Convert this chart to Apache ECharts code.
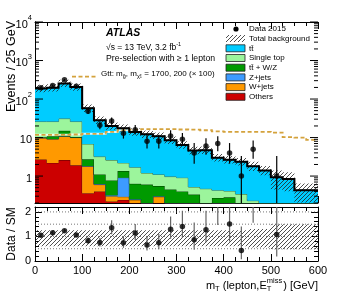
<!DOCTYPE html>
<html><head><meta charset="utf-8">
<script src="https://cdn.jsdelivr.net/npm/echarts/dist/echarts.min.js"></script>
<style>html,body{margin:0;padding:0;background:#fff}#c{width:357px;height:294px}</style>
</head><body><div id="c"></div>
<script>
// ---------- data ----------
const binEdges = [0,25,50,75,100,125,150,175,200,225,250,275,300,325,350,375,400,425,450,475,500,525,550,575,600];
const dataCounts  = [197,224,315,216,48,21,27,13,16,8,8,11,9,4,6,7,4,1,5,0,1,0,0,0];
const dataErrUp   = [14.5,15.5,18.3,15.2,7.9,5.6,6.2,4.7,5.1,3.9,3.9,4.4,4.1,3.2,3.6,3.8,3.2,2.3,3.4,0,2.3,0,0,0];
const dataErrDown = [13.5,14.5,17.3,14.2,6.9,4.6,5.2,3.6,4.0,2.8,2.8,3.3,3.0,1.9,2.4,2.6,1.9,0.83,2.2,0,0.83,0,0,0];
const others    = [2.7,2.2,2.6,1.9,0.36,0.40,0.22,0.24,0.12,0.10,0.08,0.06,0.05,0.05,0.05,0.04,0.04,0.03,0.03,0.02,0.02,0.02,0.01,0.01];
const wjets     = [7.1,7.0,8.2,8.1,1.44,0.20,0.08,0.05,0.12,0.05,0.21,0.06,0.05,0.05,0.05,0.04,0.04,0.03,0.02,0.02,0.02,0.01,0.01,0.01];
const zjets     = [0.02,0.02,0.02,0.02,0.02,0.02,0.02,0.62,0.01,0.01,0.01,0.01,0.01,0.01,0.01,0.01,0.01,0.01,0.01,0.01,0.01,0.01,0.01,0.01];
const ttv       = [0.3,1.6,4.2,0.3,0.9,0.48,0.45,0.44,0.38,0.44,0.25,0.32,0.29,0.22,0.07,0.18,0.19,0.08,0.06,0.03,0.02,0.02,0.02,0.02];
const singleTop = [15.9,15.2,16,15.7,4.1,2.1,1.83,0.85,1.07,0.6,0.55,0.52,0.51,0.19,0.29,0.16,0.13,0.19,0.11,0.07,0.05,0.04,0.03,0.03];
const ttbar     = [162,169,224,178,51.2,24.8,17.4,15.3,12.3,11.0,9.7,7.53,5.49,4.08,4.23,2.57,2.24,2.01,1.57,1.25,0.81,0.74,0.35,0.35];
const signalX100 = [11.8,11.8,11.8,12,12.5,12.5,14,15.5,16,16.5,16.5,16.5,16.2,16,15.5,14.5,14,14,14,14,13.5,10.3,10,8.7];
const bandUp   = [1.25,1.25,1.25,1.25,1.25,1.25,1.25,1.25,1.25,1.25,1.25,1.25,1.25,1.25,1.25,1.25,1.25,1.25,1.3,1.3,1.5,1.5,1.5,1.5];
const bandDown = [0.6,0.6,0.6,0.6,0.6,0.6,0.6,0.6,0.6,0.6,0.6,0.6,0.6,0.6,0.6,0.6,0.6,0.6,0.55,0.55,0.48,0.48,0.48,0.48];
const mainBandDown = [0.8,0.8,0.8,0.8,0.8,0.8,0.8,0.8,0.8,0.8,0.8,0.8,0.8,0.8,0.8,0.8,0.8,0.8,0.75,0.75,0.48,0.48,0.48,0.48];
const ratioGuides = [0.5,1,1.5,2];

// ---------- setup ----------
const FONT = '"Liberation Sans", Arial, Helvetica, sans-serif';
const N = dataCounts.length;
const YMIN = 0.2, YMAX = 10000, RMIN = 0, RMAX = 2.2;
const centers = binEdges.slice(0,-1).map((x,i)=>(x+binEdges[i+1])/2);
const total = ttbar.map((_,i)=>others[i]+wjets[i]+zjets[i]+ttv[i]+singleTop[i]+ttbar[i]);

const layers = [
  {name:'Others',     vals:others,    fill:'#cc0000', edge:'#4d0000'},
  {name:'W+jets',     vals:wjets,     fill:'#ff9900', edge:'#6b4000'},
  {name:'Z+jets',     vals:zjets,     fill:'#3d9bff', edge:'#123f70'},
  {name:'tt\u0304 + W/Z', vals:ttv,   fill:'#009a00', edge:'#003300'},
  {name:'Single top', vals:singleTop, fill:'#9cf59c', edge:'#2f5f3f'},
  {name:'tt\u0304',   vals:ttbar,     fill:'#00ccff', edge:'#0a3d4d'}
];
let run = new Array(N).fill(0);
layers.forEach(l=>{ l.lo = run.slice(); run = run.map((v,i)=>v+l.vals[i]); l.hi = run.slice(); });

function makeHatch(color, s, lw){
  const c=document.createElement('canvas'); c.width=s; c.height=s;
  const g=c.getContext('2d'); g.strokeStyle=color; g.lineWidth=lw;
  g.beginPath(); g.moveTo(-1,s+1); g.lineTo(s+1,-1); g.stroke();
  return c;
}
const hatchImg = makeHatch('#222', 4, 0.8);
const hatchFill = () => ({image: hatchImg, repeat: 'repeat'});

const clampY = v => Math.min(Math.max(v, YMIN), YMAX);
const clampR = v => Math.min(Math.max(v, RMIN), RMAX);
function steps(api, vals, clamp){
  const pts=[];
  for(let i=0;i<N;i++){ const y=clamp(vals[i]); pts.push(api.coord([binEdges[i], y])); pts.push(api.coord([binEdges[i+1], y])); }
  return pts;
}

const series = [];
// stack layers
layers.forEach((l,k)=>{
  series.push({
    type:'custom', xAxisIndex:0, yAxisIndex:0, z:2+k*0.01, data:[[300,1]], encode:{x:0,y:1}, silent:true,
    renderItem:(p,api)=>{
      const top=steps(api,l.hi,clampY), bot=steps(api,l.lo,clampY).reverse();
      return {type:'group', children:[
        {type:'polygon', shape:{points:top.concat(bot)}, style:{fill:l.fill, stroke:null}},
        {type:'polyline', shape:{points:top}, style:{stroke:l.edge, lineWidth:0.9, fill:null}}
      ]};
    }
  });
});
// hatch band
series.push({
  type:'custom', xAxisIndex:0, yAxisIndex:0, z:4, data:[[300,1]], encode:{x:0,y:1}, silent:true,
  renderItem:(p,api)=>{
    const up=steps(api, total.map((t,i)=>t*bandUp[i]), clampY);
    const dn=steps(api, total.map((t,i)=>t*mainBandDown[i]), clampY).reverse();
    return {type:'polygon', shape:{points:up.concat(dn)}, style:{fill:hatchFill()}};
  }
});
// signal
series.push({
  type:'custom', xAxisIndex:0, yAxisIndex:0, z:5, data:[[300,1]], encode:{x:0,y:1}, silent:true,
  renderItem:(p,api)=>{
    const pts=steps(api, signalX100, clampY);
    return {type:'group', children:[
      {type:'polyline', shape:{points:pts}, style:{stroke:'rgba(255,255,255,0.85)', lineWidth:2, fill:null}},
      {type:'polyline', shape:{points:pts}, style:{stroke:'#d4a23c', lineWidth:1.8, lineDash:[4,2.5], fill:null}}
    ]};
  }
});
// total line
series.push({
  type:'custom', xAxisIndex:0, yAxisIndex:0, z:6, data:[[300,1]], encode:{x:0,y:1}, silent:true,
  renderItem:(p,api)=>({type:'polyline', shape:{points:steps(api,total,clampY)}, style:{stroke:'#000', lineWidth:2, fill:null}})
});
// data error bars
series.push({
  type:'custom', xAxisIndex:0, yAxisIndex:0, z:7, data:[[300,1]], encode:{x:0,y:1}, silent:true,
  renderItem:(p,api)=>{
    const ch=[];
    for(let i=0;i<N;i++){ if(dataCounts[i]<=0) continue;
      const a=api.coord([centers[i], clampY(dataCounts[i]-dataErrDown[i])]), b=api.coord([centers[i], clampY(dataCounts[i]+dataErrUp[i])]);
      ch.push({type:'line', shape:{x1:a[0],y1:a[1],x2:b[0],y2:b[1]}, style:{stroke:'#000', lineWidth:1.2}});
    }
    return {type:'group', children:ch};
  }
});
series.push({
  type:'scatter', xAxisIndex:0, yAxisIndex:0, z:8, symbol:'circle', symbolSize:5.5, silent:true,
  itemStyle:{color:'#000'},
  data: centers.map((c,i)=>[c, dataCounts[i]]).filter(d=>d[1]>0)
});
// log-axis ticks (left and right)
const logTickVals=[];
for(let e=-1;e<=3;e++) for(let m=1;m<=9;m++){ const v=m*Math.pow(10,e); if(v>=YMIN-1e-9 && v<YMAX) logTickVals.push([v, m===1]); }
logTickVals.push([YMAX,true]);
series.push({
  type:'custom', xAxisIndex:0, yAxisIndex:0, z:9, data:[[300,1]], encode:{x:0,y:1}, silent:true,
  renderItem:(p,api)=>{
    const ch=[];
    logTickVals.forEach(([v,maj])=>{
      const L=api.coord([0,v]), R=api.coord([600,v]); const len=maj?8:4;
      ch.push({type:'line', shape:{x1:L[0],y1:L[1],x2:L[0]+len,y2:L[1]}, style:{stroke:'#000',lineWidth:1}});
      ch.push({type:'line', shape:{x1:R[0],y1:R[1],x2:R[0]-len,y2:R[1]}, style:{stroke:'#000',lineWidth:1}});
    });
    return {type:'group', children:ch};
  }
});

// ---------- ratio panel ----------
const ratio = dataCounts.map((n,i)=> n>0 ? n/total[i] : null);
series.push({
  type:'custom', xAxisIndex:2, yAxisIndex:2, z:2, data:[[300,1]], encode:{x:0,y:1}, silent:true,
  renderItem:(p,api)=>{
    const up=steps(api, bandUp, clampR), dn=steps(api, bandDown, clampR).reverse();
    return {type:'polygon', shape:{points:up.concat(dn)}, style:{fill:hatchFill()}};
  }
});
series.push({
  type:'custom', xAxisIndex:2, yAxisIndex:2, z:3, data:[[300,1]], encode:{x:0,y:1}, silent:true,
  renderItem:(p,api)=>({type:'group', children: ratioGuides.map(g=>{
    const a=api.coord([0,g]), b=api.coord([600,g]);
    return {type:'line', shape:{x1:a[0],y1:a[1],x2:b[0],y2:b[1]}, style:{stroke:'#555', lineWidth:0.8, lineDash:[1,2]}};
  })})
});
series.push({
  type:'custom', xAxisIndex:2, yAxisIndex:2, z:5, data:[[300,1]], encode:{x:0,y:1}, silent:true,
  renderItem:(p,api)=>{
    const ch=[];
    for(let i=0;i<N;i++){ if(ratio[i]===null) continue;
      const a=api.coord([centers[i], clampR(ratio[i]-dataErrDown[i]/total[i])]), b=api.coord([centers[i], clampR(ratio[i]+dataErrUp[i]/total[i])]);
      ch.push({type:'line', shape:{x1:a[0],y1:a[1],x2:b[0],y2:b[1]}, style:{stroke:'#666', lineWidth:1.2}});
    }
    return {type:'group', children:ch};
  }
});
series.push({
  type:'scatter', xAxisIndex:2, yAxisIndex:2, z:6, symbol:'circle', symbolSize:5.5, silent:true,
  itemStyle:{color:'#000'},
  data: centers.map((c,i)=>[c, ratio[i]]).filter(d=>d[1]!==null && d[1]<=RMAX)
});

// ---------- axes ----------
const xBase = (grid, pos, labels) => ({
  gridIndex:grid, type:'value', min:0, max:600, interval:100, position:pos,
  axisLine:{onZero:false, lineStyle:{color:'#000', width:1}},
  axisTick:{inside:true, length:7, lineStyle:{color:'#000'}},
  minorTick:{show:true, splitNumber:4, length:4, lineStyle:{color:'#000'}},
  splitLine:{show:false},
  axisLabel:{show:labels, color:'#000', fontSize:11, fontFamily:FONT, margin:4}
});
const logLabel = v => {
  const lg=Math.log10(v), e=Math.round(lg);
  if (Math.abs(lg-e)>1e-6) return '';
  if (e===0) return '{b|1}';
  if (e===1) return '{b|10}';
  return '{b|10}{s|'+e+'}';
};

const option = {
  animation:false,
  backgroundColor:'#fff',
  grid:[
    {left:35, top:22, width:283, height:181},
    {left:35, top:207, width:283, height:54}
  ],
  xAxis:[ xBase(0,'bottom',false), xBase(0,'top',false), xBase(1,'bottom',true), xBase(1,'top',false) ],
  yAxis:[
    {gridIndex:0, type:'log', logBase:10, min:YMIN, max:YMAX, position:'left',
     axisLine:{show:true, lineStyle:{color:'#000'}}, axisTick:{show:false}, splitLine:{show:false},
     axisLabel:{formatter:logLabel, margin:3, color:'#000', fontFamily:FONT,
       rich:{b:{fontSize:11, lineHeight:16, verticalAlign:'bottom', fontFamily:FONT, color:'#000'},
             s:{fontSize:7.5, lineHeight:9, verticalAlign:'top', fontFamily:FONT, color:'#000'}}}},
    {gridIndex:0, type:'log', logBase:10, min:YMIN, max:YMAX, position:'right',
     axisLine:{show:true, lineStyle:{color:'#000'}}, axisTick:{show:false}, splitLine:{show:false}, axisLabel:{show:false}},
    {gridIndex:1, type:'value', min:RMIN, max:RMAX, interval:1, position:'left',
     axisLine:{show:true, onZero:false, lineStyle:{color:'#000'}},
     axisTick:{inside:true, length:7, lineStyle:{color:'#000'}},
     minorTick:{show:true, splitNumber:5, length:4, lineStyle:{color:'#000'}}, splitLine:{show:false},
     axisLabel:{formatter:v=>Math.abs(v-Math.round(v))<1e-6?String(Math.round(v)):'', margin:4, fontSize:11, color:'#000', fontFamily:FONT}},
    {gridIndex:1, type:'value', min:RMIN, max:RMAX, interval:1, position:'right',
     axisLine:{show:true, onZero:false, lineStyle:{color:'#000'}},
     axisTick:{inside:true, length:7, lineStyle:{color:'#000'}},
     minorTick:{show:true, splitNumber:5, length:4, lineStyle:{color:'#000'}}, splitLine:{show:false},
     axisLabel:{show:false}}
  ],
  series: series
};

// ---------- text / legend graphics ----------
const mctx = document.createElement('canvas').getContext('2d');
const measure = (t,s)=>{ mctx.font = s+'px '+FONT; return mctx.measureText(t).width; };
const g = [];
const txt = (x,y,text,size,extra)=>g.push(Object.assign({type:'text', x:x, y:y, silent:true,
  style:Object.assign({text:text, fontSize:size, fontFamily:FONT, fill:'#000', verticalAlign:'middle', align:'left'}, (extra&&extra.style)||{})},
  extra&&extra.el||{}));

txt(106,33,'ATLAS',10.5,{style:{fontWeight:'bold', fontStyle:'italic'}});
txt(106,47.5,'\u221As = 13 TeV, 3.2 fb{sup|-1}',8.5,{style:{lineHeight:12, rich:{sup:{fontSize:5.5, lineHeight:7, verticalAlign:'top', fontFamily:FONT}}}});
txt(106,59,'Pre-selection with \u2265 1 lepton',8.7);
txt(101,73.5,'Gtt: m{sub|g\u0303}, m{sub|\u03C7\u0303}{sub2|1} = 1700, 200 (\u00D7 100)',8,
  {style:{lineHeight:11, rich:{sub:{fontSize:5.5, lineHeight:6, verticalAlign:'bottom', fontFamily:FONT}, sub2:{fontSize:4, lineHeight:4, verticalAlign:'bottom', fontFamily:FONT}}}});
g.push({type:'line', silent:true, shape:{x1:72,y1:76.7,x2:96,y2:76.7}, style:{stroke:'#d4a23c', lineWidth:1.8, lineDash:[4,2.5]}});

// legend
const LX=226, LW=19, TX=249;
g.push({type:'circle', silent:true, shape:{cx:236, cy:29, r:2.6}, style:{fill:'#000'}});
txt(TX,29,'Data 2015',8);
g.push({type:'rect', silent:true, shape:{x:LX, y:35, width:LW, height:7}, style:{fill:hatchFill()}});
txt(TX,38.5,'Total background',8);
const rowsY=[48.3,58,67.7,77.4,87.1,96.8];
const legendOrder=[5,4,3,2,1,0];
legendOrder.forEach((li,r)=>{
  const l=layers[li];
  g.push({type:'rect', silent:true, shape:{x:LX, y:rowsY[r]-3.5, width:LW, height:7}, style:{fill:l.fill, stroke:'#222', lineWidth:0.8}});
  txt(TX,rowsY[r],l.name,8);
});

// axis titles
g.push({type:'text', x:12, y:21, rotation:Math.PI/2, silent:true,
  style:{text:'Events / 25 GeV', fontSize:12.5, fontFamily:FONT, fill:'#000', align:'right', verticalAlign:'middle'}});
g.push({type:'text', x:11.5, y:234, rotation:Math.PI/2, silent:true,
  style:{text:'Data / SM', fontSize:12, fontFamily:FONT, fill:'#000', align:'center', verticalAlign:'middle'}});
// x title with stacked sub/superscript
(function(){
  const B=11, S=7.5, yb=285.5;
  const w1=measure('m',B), w2=measure('T',S), w3=measure(' (lepton,E',B), w4=Math.max(measure('T',S),measure('miss',S)), w5=measure(') [GeV]',B);
  let x=318-(w1+w2+w3+w4+w5+1);
  txt(x,yb,'m',B); x+=w1;
  txt(x,yb+3.5,'T',S); x+=w2;
  txt(x,yb,' (lepton,E',B); x+=w3;
  txt(x,yb+3.5,'T',S); txt(x,yb-5,'miss',S); x+=w4+1;
  txt(x,yb,') [GeV]',B);
})();

option.graphic = {elements:g};
const chart = echarts.init(document.getElementById('c'), null, {renderer:'canvas', width:357, height:294});
chart.setOption(option);
</script>
</body></html>
